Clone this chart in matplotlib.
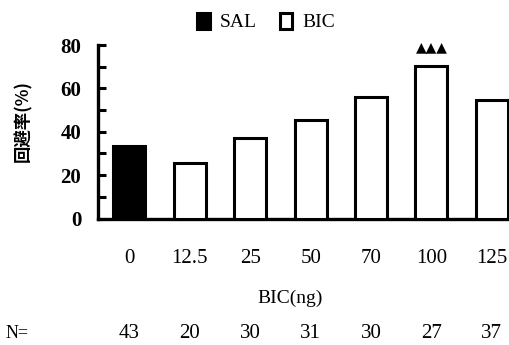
import matplotlib
matplotlib.use("Agg")
import matplotlib.pyplot as plt
import numpy as np

doses = ["0", "12.5", "25", "50", "70", "100", "125"]
rates = [33.5, 25.5, 37, 45.5, 56, 70.5, 54.5]
n_values = ["43", "20", "30", "31", "30", "27", "37"]
groups = ["SAL", "BIC"]
y_ticks = [0, 20, 40, 60, 80]

serif = "Liberation Serif"
plt.rcParams['font.family'] = [serif, 'DejaVu Sans']

fig = plt.figure(figsize=(5.1, 3.45), dpi=100)
ax = fig.add_axes([98/510, (345-218.5)/345, 1 - 98/510, (218.5-45)/345])

x = np.arange(len(doses))
lw = 2.2
ax.bar(x[:1], rates[:1], width=0.53, color="black", edgecolor="black",
       linewidth=lw, label=groups[0], zorder=3)
ax.bar(x[1:], rates[1:], width=0.53, color="white", edgecolor="black",
       linewidth=lw, label=groups[1], zorder=3)

ax.set_xlim(-0.52, 6.3)
ax.set_ylim(0, 80)
for s in ["top", "right"]:
    ax.spines[s].set_visible(False)
for s in ["left", "bottom"]:
    ax.spines[s].set_linewidth(2.4)

ax.set_yticks(y_ticks)
ax.set_yticks(np.arange(10, 80, 20), minor=True)
ax.set_yticklabels([str(v) for v in y_ticks], fontsize=15, fontweight="bold")
ax.tick_params(axis="y", which="both", direction="in", length=6, width=2.2, pad=12)
ax.set_xticks(x)
ax.set_xticklabels(doses, fontsize=15)
ax.tick_params(axis="x", length=0, pad=22)

ax.set_xlabel("BIC(ng)", fontsize=14)
ax.xaxis.set_label_coords((290-98)/412, -(290-218.5)/173.5)
ax.set_ylabel("回避率(%)", fontsize=12.5, fontweight="bold",
              family=["Noto Sans CJK SC", "DejaVu Sans"])
ax.yaxis.set_label_coords(-(98-32)/412, (218.5-121)/173.5)

# significance marks
ax.text(x[5], rates[5] + 8.5, "▲▲▲", ha="center", va="center", fontsize=10,
        family="DejaVu Sans")

# N row
fig.text(17/510, 1 - 333/345, "N=", fontsize=13, ha="center", va="center")
for xi, n in zip(x, n_values):
    xd = ax.transData.transform((xi, 0))[0]
    fig.text(xd / 510, 1 - 333/345, n, fontsize=15, ha="center", va="center")

leg = ax.legend(loc="center", bbox_to_anchor=(266/510, 1 - 22/345),
                bbox_transform=fig.transFigure, ncol=2, frameon=False,
                fontsize=14, handlelength=0.65, handleheight=0.9,
                handletextpad=0.5, columnspacing=1.2)

fig.savefig("out.png", dpi=100)
